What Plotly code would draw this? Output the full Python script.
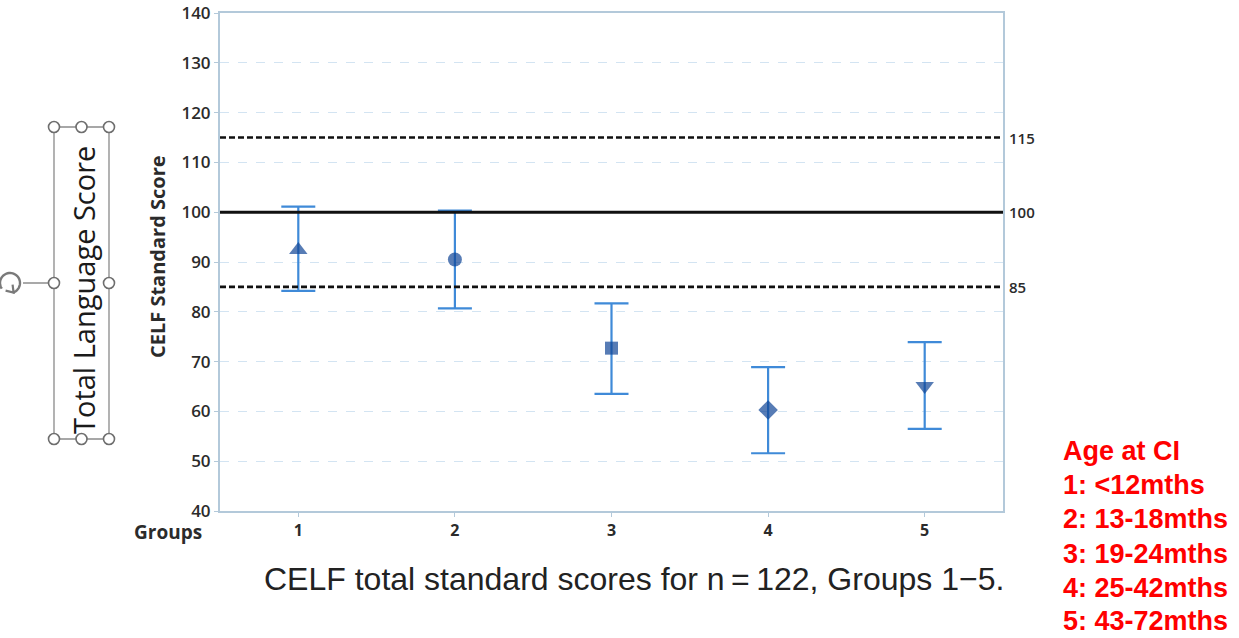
import numpy as np
import plotly.graph_objects as go

# ---- data -------------------------------------------------------------
groups = [1, 2, 3, 4, 5]
group_means = [92.4, 90.5, 72.7, 60.3, 65.1]
ci_upper = [101.1, 100.3, 81.7, 68.9, 73.9]
ci_lower = [84.2, 80.7, 63.5, 51.6, 56.5]
group_symbols = ["triangle-up", "circle", "square", "diamond", "triangle-down"]
group_marker_sizes = [16, 14, 13, 15, 16]

norm_mean = 100
norm_band = [85, 115]

y_ticks = [40, 50, 60, 70, 80, 90, 100, 110, 120, 130, 140]

age_key = ["Age at CI", "1: &lt;12mths", "2: 13-18mths", "3: 19-24mths",
           "4: 25-42mths", "5: 43-72mths"]

caption = "CELF total standard scores for n\u2009=\u2009122, Groups 1\u22125."

# ---- page geometry (pixels) -------------------------------------------
W, H = 1239, 638
L, R, T, B = 220, 236, 13, 127
PW, PH = W - L - R, H - T - B


def px(x):
    return (x - L) / PW


def py(y):
    return (H - B - y) / PH


err_plus = [u - m for u, m in zip(ci_upper, group_means)]
err_minus = [m - l for m, l in zip(group_means, ci_lower)]

fig = go.Figure()
# confidence intervals
fig.add_trace(go.Scatter(
    x=groups, y=group_means, mode="markers",
    marker=dict(size=1, color="rgba(0,0,0,0)"),
    error_y=dict(type="data", symmetric=False, array=err_plus,
                 arrayminus=err_minus, color="#3f8ad8", thickness=2.2,
                 width=17),
    hoverinfo="skip", showlegend=False,
))
# group means on top
fig.add_trace(go.Scatter(
    x=groups, y=group_means, mode="markers",
    marker=dict(symbol=group_symbols, size=group_marker_sizes,
                color="#0f4596", line=dict(width=0)),
    hoverinfo="skip", showlegend=False,
))

shapes = []
# normal-range reference lines
for v in norm_band:
    shapes.append(dict(type="line", xref="x domain", yref="y", x0=0, x1=1,
                       y0=v, y1=v, line=dict(color="#111", width=2.6,
                                             dash="6px,3px")))
shapes.append(dict(type="line", xref="x domain", yref="y", x0=0, x1=1,
                   y0=norm_mean, y1=norm_mean,
                   line=dict(color="#111", width=3)))

# selected text box with sizing handles
box_l, box_r, box_t, box_b = 54, 109, 127, 439
box_mid = (box_t + box_b) / 2
shapes.append(dict(type="rect", xref="paper", yref="paper",
                   x0=px(box_l), x1=px(box_r), y0=py(box_b), y1=py(box_t),
                   line=dict(color="#8a8a8a", width=1.3)))
# rotation handle stem
shapes.append(dict(type="line", xref="paper", yref="paper",
                   x0=px(23), x1=px(box_l), y0=py(box_mid), y1=py(box_mid),
                   line=dict(color="#7a7a7a", width=1.3)))
# rotation arrow arc
cx, cy, rr = 10, box_mid, 10
ang = np.radians(np.linspace(-75, 215, 40))
pts = [(px(cx + rr * np.cos(a)), py(cy - rr * np.sin(a))) for a in ang]
arc = "M " + " L ".join(f"{x:.5f},{y:.5f}" for x, y in pts)
shapes.append(dict(type="path", xref="paper", yref="paper", path=arc,
                   line=dict(color="#7a7a7a", width=2.4)))
tip_x = cx + rr * np.cos(np.radians(-75))
tip_y = cy - rr * np.sin(np.radians(-75))
head = (f"M {px(tip_x - 7):.5f},{py(tip_y - 2):.5f} "
        f"L {px(tip_x + 1):.5f},{py(tip_y):.5f} "
        f"L {px(tip_x):.5f},{py(tip_y - 8):.5f}")
shapes.append(dict(type="path", xref="paper", yref="paper", path=head,
                   line=dict(color="#7a7a7a", width=2.2)))
handles = [(box_l, box_t), ((box_l + box_r) / 2, box_t), (box_r, box_t),
           (box_l, box_mid), (box_r, box_mid),
           (box_l, box_b), ((box_l + box_r) / 2, box_b), (box_r, box_b)]
for hx, hy in handles:
    shapes.append(dict(type="circle", xref="paper", yref="paper",
                       xsizemode="pixel", ysizemode="pixel",
                       xanchor=px(hx), yanchor=py(hy),
                       x0=-5.5, x1=5.5, y0=-5.5, y1=5.5,
                       fillcolor="white", line=dict(color="#6e6e6e", width=1.6)))

annotations = []
# reference values on the right edge
for v in norm_band + [norm_mean]:
    annotations.append(dict(x=1, xref="paper", y=v, yref="y", xanchor="left",
                            yanchor="middle", xshift=4, text=str(v),
                            showarrow=False,
                            font=dict(family="Open Sans", size=15,
                                      color="#2b2b2b", weight=600)))
annotations.append(dict(x=px(157), y=py(257), xref="paper", yref="paper",
                        xanchor="center", yanchor="middle",
                        text="CELF Standard Score", textangle=-90,
                        showarrow=False,
                        font=dict(family="Open Sans", size=20, color="#2b2b2b",
                                  weight=700)))
annotations.append(dict(x=px(204), y=py(532), xref="paper", yref="paper",
                        xanchor="right", yanchor="middle", text="Groups",
                        showarrow=False,
                        font=dict(family="Open Sans", size=19, color="#2b2b2b",
                                  weight=700)))
annotations.append(dict(x=px(83), y=py(290), xref="paper", yref="paper",
                        xanchor="center", yanchor="middle",
                        text="Total Language Score", textangle=-90,
                        showarrow=False,
                        font=dict(family="Open Sans", size=29, color="#1a1a1a")))
annotations.append(dict(x=px(262), y=py(579), xref="paper", yref="paper",
                        xanchor="left", yanchor="middle", text=caption,
                        showarrow=False,
                        font=dict(family="Liberation Sans", size=32,
                                  color="#222")))
key_y = [451, 485, 519, 554, 588, 621]
for txt, yy in zip(age_key, key_y):
    annotations.append(dict(x=px(1061), y=py(yy), xref="paper", yref="paper",
                            xanchor="left", yanchor="middle", text=txt,
                            showarrow=False,
                            font=dict(family="Liberation Sans", size=27,
                                      color="#ff0000", weight=700)))

axis_line = "#b3c9da"
fig.update_layout(
    width=W, height=H, margin=dict(l=L, r=R, t=T, b=B, pad=0,
                                   autoexpand=False),
    paper_bgcolor="white", plot_bgcolor="white",
    shapes=shapes, annotations=annotations,
    xaxis=dict(range=[0.5, 5.5], tickvals=groups,
               ticktext=[str(g) for g in groups], showgrid=False,
               automargin=False,
               showline=True, linecolor=axis_line, linewidth=2, mirror=True,
               ticks="outside", ticklen=4, tickcolor=axis_line,
               zeroline=False,
               tickfont=dict(family="Open Sans", size=16, color="#2b2b2b",
                             weight=700)),
    yaxis=dict(range=[40, 140], tickvals=y_ticks, showgrid=True,
               automargin=False,
               gridcolor="#d3e4f2", griddash="dash", gridwidth=1.2,
               showline=True, linecolor=axis_line, linewidth=2, mirror=True,
               ticks="outside", ticklen=4, tickcolor=axis_line,
               zeroline=False,
               tickfont=dict(family="Open Sans", size=17, color="#2b2b2b",
                             weight=600)),
)

fig.write_html("out.html")
